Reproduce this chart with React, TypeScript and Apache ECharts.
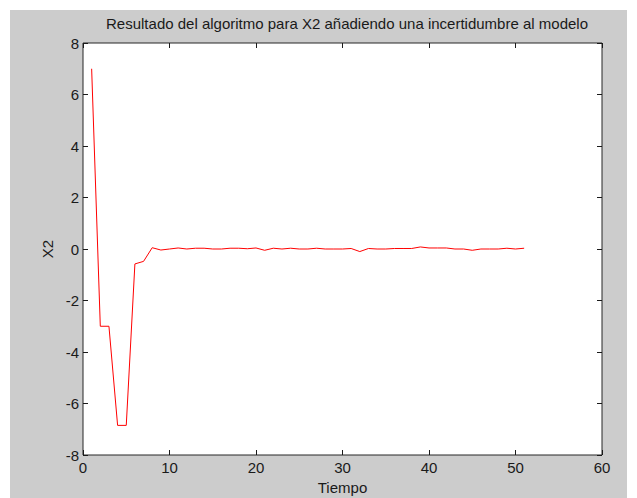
import React, { useEffect, useRef } from "react";
import * as echarts from "echarts";

// Simulation time steps and the estimated state X2 at each step
const tiempo: number[] = [
  1, 2, 3, 4, 5, 6, 7, 8, 9, 10,
  11, 12, 13, 14, 15, 16, 17, 18, 19, 20,
  21, 22, 23, 24, 25, 26, 27, 28, 29, 30,
  31, 32, 33, 34, 35, 36, 37, 38, 39, 40,
  41, 42, 43, 44, 45, 46, 47, 48, 49, 50, 51,
];
const x2: number[] = [
  7, -3, -3, -6.85, -6.85, -0.58, -0.48, 0.05, -0.04, 0.0,
  0.04, 0.0, 0.03, 0.03, 0.0, 0.0, 0.03, 0.03, 0.01, 0.04,
  -0.05, 0.03, 0.0, 0.03, 0.0, 0.0, 0.03, 0.0, 0.0, 0.0,
  0.02, -0.1, 0.02, 0.0, 0.0, 0.02, 0.02, 0.02, 0.08, 0.04,
  0.04, 0.04, 0.0, 0.0, -0.05, 0.0, 0.0, 0.0, 0.03, 0.0, 0.03,
];

const xTicks = { min: 0, max: 60, interval: 10 };
const yTicks = { min: -8, max: 8, interval: 2 };

const titulo = "Resultado del algoritmo para X2 añadiendo una incertidumbre al modelo";

const FONT = "'Liberation Sans', Arial, Helvetica, sans-serif";
const INK = "#1a1a1a";

export default function App() {
  const ref = useRef<HTMLDivElement>(null);

  useEffect(() => {
    document.body.style.margin = "0";
    if (!ref.current) return;
    const chart = echarts.init(ref.current, undefined, { renderer: "svg" });

    const tick = { show: true, inside: true, length: 5, lineStyle: { color: INK, width: 1 } };
    const label = { color: INK, fontSize: 15, fontFamily: FONT };
    const hiddenLine = { show: false, onZero: false };

    chart.setOption({
      animation: false,
      backgroundColor: "#cccccc",
      title: {
        text: titulo,
        left: 332,
        top: 1,
        textAlign: "center",
        textStyle: { color: INK, fontSize: 15, fontWeight: "normal", fontFamily: FONT },
      },
      grid: {
        show: true,
        left: 73,
        top: 33,
        right: 25,
        bottom: 43,
        outerBoundsMode: "none",
        containLabel: false,
        backgroundColor: "#ffffff",
        borderColor: "#262626",
        borderWidth: 1,
      },
      xAxis: [
        {
          type: "value",
          ...xTicks,
          position: "bottom",
          name: "Tiempo",
          nameLocation: "middle",
          nameGap: 25,
          nameTextStyle: { color: INK, fontSize: 15, fontFamily: FONT },
          axisLine: hiddenLine,
          axisTick: tick,
          axisLabel: { ...label, margin: 5 },
          splitLine: { show: false },
        },
        {
          type: "value",
          ...xTicks,
          position: "top",
          axisLine: hiddenLine,
          axisTick: tick,
          axisLabel: { show: false },
          splitLine: { show: false },
        },
      ],
      yAxis: [
        {
          type: "value",
          ...yTicks,
          position: "left",
          name: "X2",
          nameLocation: "middle",
          nameGap: 28,
          nameTextStyle: { color: INK, fontSize: 15, fontFamily: FONT },
          axisLine: hiddenLine,
          axisTick: tick,
          axisLabel: { ...label, margin: 4 },
          splitLine: { show: false },
        },
        {
          type: "value",
          ...yTicks,
          position: "right",
          axisLine: hiddenLine,
          axisTick: tick,
          axisLabel: { show: false },
          splitLine: { show: false },
        },
      ],
      series: [
        {
          type: "line",
          xAxisIndex: 0,
          yAxisIndex: 0,
          data: tiempo.map((t, i) => [t, x2[i]]),
          showSymbol: false,
          lineStyle: { color: "#ff0000", width: 1 },
        },
      ],
    });

    return () => chart.dispose();
  }, []);

  return (
    <div style={{ width: 637, height: 498, background: "#ffffff", position: "relative" }}>
      <div
        ref={ref}
        style={{ position: "absolute", left: 10, top: 10, width: 617, height: 488 }}
      />
    </div>
  );
}
